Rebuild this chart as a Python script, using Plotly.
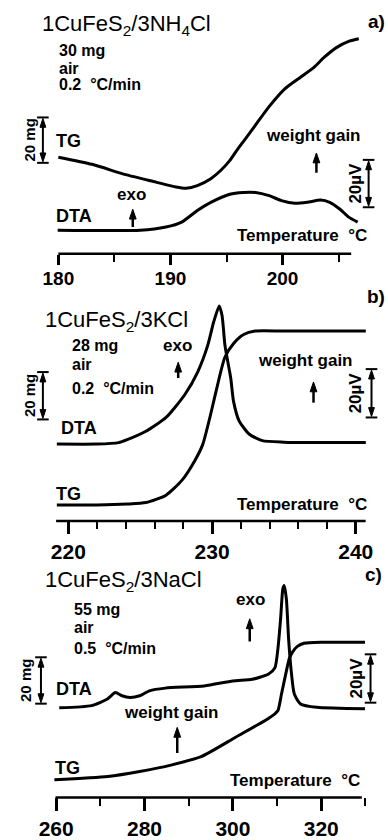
import plotly.graph_objects as go

W, H = 388, 840

# ---------------- data ----------------
# Panel a: 1CuFeS2/3NH4Cl  (TG in mg, DTA in µV, arbitrary offsets)
a_tg_T = [180.0, 183.0, 186.0, 188.7, 190.5, 191.4, 192.4, 193.6, 194.5, 195.3, 196.0,
          196.8, 197.6, 198.8, 200.2, 201.6, 202.8, 203.7, 204.8, 205.95, 206.8]
a_tg = [39.1, 36.2, 32.0, 29.0, 27.0, 26.5, 27.6, 30.4, 33.8, 37.8, 42.4,
        47.2, 52.2, 59.6, 66.8, 71.5, 75.5, 79.5, 83.5, 86.1, 87.1]
a_dta_T = [179.94, 187.3, 189.6, 191.0, 192.4, 193.6, 195.3, 196.5, 197.6, 198.8, 199.9,
           201.1, 202.2, 203.4, 204.2, 205.1, 205.9, 206.7]
a_dta = [9.5, 9.5, 10.8, 12.8, 17.5, 20.8, 24.1, 24.8, 24.8, 23.5, 21.5,
         20.4, 20.8, 21.7, 20.8, 18.1, 14.8, 12.8]
a_ticks = [180, 190, 200]

# Panel b: 1CuFeS2/3KCl
b_dta_T = [219.2, 222.0, 223.5, 224.1, 225.4, 226.8, 228.1, 229.0, 229.7, 230.1, 230.5,
           230.7, 230.9, 231.3, 231.5, 231.9, 232.6, 233.5, 235.0, 237.0, 240.7]
b_dta = [31.2, 31.2, 31.8, 33.0, 36.4, 42.0, 51.2, 60.4, 71.2, 80.4, 87.2,
         83.2, 71.2, 58.0, 48.4, 40.4, 35.2, 32.6, 32.0, 31.8, 31.8]
b_tg_T = [219.2, 222.0, 224.1, 225.4, 226.8, 227.9, 228.8, 229.35, 229.9, 230.5, 230.9,
          231.5, 232.2, 233.0, 235.0, 240.7]
b_tg = [6.5, 6.5, 6.9, 7.5, 10.5, 16.5, 24.5, 31.0, 43.2, 58.0, 66.5,
        72.0, 75.6, 77.0, 77.0, 77.0]
b_ticks = [220, 230, 240]

# Panel c: 1CuFeS2/3NaCl
c_dta_T = [260.7, 268.0, 271.6, 273.4, 274.9, 276.7, 278.9, 281.1, 284.7, 293.5, 300.0,
           304.4, 308.0, 309.5, 310.2, 310.8, 311.3, 311.6, 312.1, 312.6, 313.2, 313.9,
           315.3, 319.0, 329.9]
c_dta = [36.3, 37.2, 39.9, 42.5, 41.2, 40.5, 41.2, 43.2, 44.3, 45.2, 47.2,
         47.9, 49.9, 52.5, 60.5, 72.5, 84.5, 85.9, 80.5, 64.5, 51.2, 41.9,
         37.9, 36.5, 35.9]
c_tg_T = [259.6, 271.7, 278.9, 286.2, 292.8, 300.7, 307.3, 309.5, 310.2, 311.0, 312.1,
          312.8, 313.6, 314.6, 316.1, 320.4, 329.9]
c_tg = [7.2, 8.5, 10.5, 13.2, 16.5, 24.5, 31.2, 33.9, 35.2, 41.9, 51.2,
        56.5, 59.2, 61.2, 62.5, 62.9, 62.9]
c_ticks = [260, 280, 300, 320]

titles = ["1CuFeS<sub>2</sub>/3NH<sub>4</sub>Cl", "1CuFeS<sub>2</sub>/3KCl",
          "1CuFeS<sub>2</sub>/3NaCl"]
letters = ["a)", "b)", "c)"]
conditions = [["30 mg", "air", "0.2  °C/min"],
              ["28 mg", "air", "0.2  °C/min"],
              ["55 mg", "air", "0.5  °C/min"]]

# ---------------- layout helpers ----------------
FONT = "Liberation Sans, Arial, Helvetica, sans-serif"


def px(x):
    return x / W


def py(y):
    return 1 - y / H


panels = [
    dict(dom_x=(44, 366), dom_y=(257, 20), rng=(179.57, 207.33), line=(180.0, 206.12),
         minor=5, len_major=10, len_minor=7, ticks=a_ticks, stand=-2, fs=19),
    dict(dom_x=(44, 372), dom_y=(528, 290), rng=(218.97, 241.03), line=(219.15, 240.69),
         minor=2, len_major=12, len_minor=7, ticks=b_ticks, stand=0, fs=21),
    dict(dom_x=(40, 372), dom_y=(808, 575), rng=(258.53, 331.15), line=(259.85, 329.18),
         minor=10, len_major=13, len_minor=8, ticks=c_ticks, stand=-1, fs=21),
]
UNIT = 2.5  # px per y unit

fig = go.Figure()
series = [(a_tg_T, a_tg, a_dta_T, a_dta), (b_tg_T, b_tg, b_dta_T, b_dta),
          (c_tg_T, c_tg, c_dta_T, c_dta)]

shapes = []
annotations = []

for i, (p, s) in enumerate(zip(panels, series)):
    k = "" if i == 0 else str(i + 1)
    xa, ya = "x" + k, "y" + k
    for tx, ty in [(s[0], s[1]), (s[2], s[3])]:
        fig.add_trace(go.Scatter(x=tx, y=ty, mode="lines", xaxis=xa, yaxis=ya,
                                 line=dict(color="black", width=3, shape="spline",
                                           smoothing=0.6),
                                 hoverinfo="skip"))
    ybot, ytop = p["dom_y"]
    fig.update_layout(**{
        "xaxis" + k: dict(domain=[px(p["dom_x"][0]), px(p["dom_x"][1])],
                          range=list(p["rng"]), anchor=ya, showgrid=False,
                          zeroline=False, showline=False, ticks="outside",
                          tickvals=p["ticks"], ticklen=p["len_major"], tickwidth=2.5,
                          tickcolor="black", ticklabelstandoff=p["stand"],
                          tickfont=dict(family=FONT, size=p["fs"], color="black",
                                        weight="bold"),
                          minor=dict(dtick=p["minor"], ticks="outside",
                                     ticklen=p["len_minor"], tickwidth=2,
                                     tickcolor="black", showgrid=False)),
        "yaxis" + k: dict(domain=[py(ybot), py(ytop)],
                          range=[0, (ybot - ytop) / UNIT], anchor=xa, visible=False,
                          fixedrange=True),
    })
    shapes.append(dict(type="line", xref=xa, yref="paper", x0=p["line"][0],
                       x1=p["line"][1], y0=py(ybot), y1=py(ybot),
                       line=dict(color="black", width=2.5)))


def text(x, y, s, size=17, bold=True, anchor="left", angle=0, family=FONT):
    annotations.append(dict(x=px(x), y=py(y), xref="paper", yref="paper", text=s,
                            showarrow=False, xanchor=anchor, yanchor="middle",
                            textangle=angle, borderpad=0,
                            font=dict(family=family, size=size, color="black",
                                      weight="bold" if bold else "normal")))


def head(x, tip, direction, hl=9, hw=3.5):
    # filled triangular arrow head; direction -1 = pointing up, +1 = pointing down
    base = tip - direction * hl
    shapes.append(dict(type="path", xref="paper", yref="paper",
                       path=f"M {px(x)},{py(tip)} L {px(x - hw)},{py(base)} "
                            f"L {px(x + hw)},{py(base)} Z",
                       fillcolor="black", line=dict(color="black", width=1)))


def vline(x, y0, y1, w=2.5):
    shapes.append(dict(type="line", xref="paper", yref="paper", x0=px(x), x1=px(x),
                       y0=py(y0), y1=py(y1), line=dict(color="black", width=w)))


def arrow(x, tip, tail):
    vline(x, tip + 6, tail, 2.5)
    head(x, tip, -1, hl=10, hw=3.5)


def scalebar(x, top, bot, label, lx, size=15):
    vline(x, top + 6, bot - 6, 2)
    head(x, top + 1, -1, hl=9, hw=3)
    head(x, bot - 1, 1, hl=9, hw=3)
    for yy in (top, bot):
        shapes.append(dict(type="line", xref="paper", yref="paper", x0=px(x - 6),
                           x1=px(x + 6), y0=py(yy), y1=py(yy),
                           line=dict(color="black", width=2)))
    text(lx, (top + bot) / 2, label, size=size, anchor="center", angle=-90)


# ---- panel a texts ----
text(31, 25, titles[0], size=22, bold=False)
text(388, 22, letters[0], size=19, anchor="right")
for s, y in zip(conditions[0], [51, 69, 86]):
    text(49, y, s, size=16)
text(46, 143, "TG", size=18)
text(46, 219, "DTA", size=18)
text(125, 197, "exo", anchor="center")
arrow(126, 212, 230)
text(313, 137, "weight gain", anchor="center")
arrow(316, 155, 175)
text(369, 239, "Temperature  °C", anchor="right")
scalebar(33, 119, 165, "20 mg", 19)
scalebar(370, 162, 210, "20µV", 357, 17)

# ---- panel b texts ----
text(34, 325, titles[1], size=22, bold=False)
text(388, 300, letters[1], size=19, anchor="right")
for s, y in zip(conditions[1], [350, 369, 394]):
    text(62, y, s, size=16)
text(51, 434, "DTA", size=18)
text(46, 501, "TG", size=18)
text(172, 350, "exo", anchor="center")
arrow(173, 367, 383)
text(305, 365, "weight gain", anchor="center")
arrow(313, 387, 408)
text(369, 511, "Temperature  °C", anchor="right")
scalebar(33, 377, 425, "20 mg", 19)
scalebar(373, 374, 423, "20µV", 356, 17)

# ---- panel c texts ----
text(34, 589, titles[2], size=22, bold=False)
text(385, 582, letters[2], size=19, anchor="right")
for s, y in zip(conditions[2], [618, 636, 657]):
    text(64, y, s, size=16)
text(46, 698, "DTA", size=18)
text(44, 778, "TG", size=18)
text(248, 607, "exo", anchor="center")
arrow(247, 627, 650)
text(166, 722, "weight gain", anchor="center")
arrow(172, 737, 763)
text(362, 791, "Temperature  °C", anchor="right")
scalebar(31, 666, 713, "20 mg", 15)
scalebar(372, 663, 712, "20µV", 357, 17)

fig.update_layout(width=W, height=H, margin=dict(l=0, r=0, t=0, b=0),
                  paper_bgcolor="white", plot_bgcolor="white", showlegend=False,
                  shapes=shapes, annotations=annotations,
                  font=dict(family=FONT, color="black"))

fig.write_html("out.html", config={"displayModeBar": False},
               post_script="document.body.style.margin='0';"
                           "document.body.style.overflow='hidden';")
